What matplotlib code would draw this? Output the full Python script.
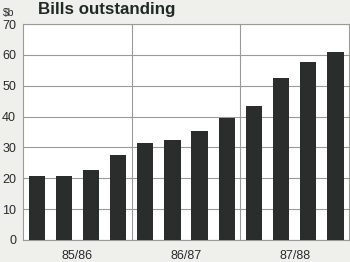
import matplotlib
matplotlib.use('Agg')
import matplotlib.pyplot as plt

plt.rcParams['font.family'] = ['Liberation Sans', 'DejaVu Sans']

years = ['85/86', '86/87', '87/88']
bills = [20.8, 20.8, 22.8, 27.7, 31.6, 32.5, 35.5, 39.5, 43.6, 52.6, 57.8, 60.8]
yticks = [0, 10, 20, 30, 40, 50, 60, 70]

bg = '#efefeb'
grid_col = '#9a9a98'
bar_col = '#2a2d2b'

fig = plt.figure(figsize=(3.5, 2.62), dpi=100, facecolor=bg)
ax = fig.add_axes([0.066, 0.084, 0.931, 0.824])
ax.set_facecolor('white')

xs = list(range(len(bills)))
ax.bar(xs, bills, width=0.6, color=bar_col, zorder=3)

ax.set_xlim(-0.5, len(bills) - 0.5)
ax.set_ylim(0, 70)
ax.set_yticks(yticks)
ax.set_yticklabels([str(t) for t in yticks], fontsize=9, color='#2a2a2a')
ax.yaxis.grid(True, color=grid_col, linewidth=0.8, zorder=1)

per = len(bills) // len(years)
for k in range(1, len(years)):
    ax.axvline(k * per - 0.5, color=grid_col, linewidth=0.8, zorder=1)
ax.set_xticks([k * per + (per - 1) / 2 for k in range(len(years))])
ax.set_xticklabels(years, fontsize=9, color='#2a2a2a')

ax.tick_params(axis='y', length=0, pad=5)
ax.tick_params(axis='x', length=0, pad=7)
for s in ax.spines.values():
    s.set_color(grid_col)
    s.set_linewidth(0.8)

fig.text(38 / 350, 1 - 14 / 262, 'Bills outstanding', fontsize=12.2, fontweight='bold',
         color='#1f2a24', va='baseline', ha='left')
fig.text(3 / 350, 1 - 16 / 262, r'\$b', fontsize=7.5, color='#2a2a2a', va='baseline', ha='left')

plt.savefig('out.png', dpi=100, facecolor=bg)
